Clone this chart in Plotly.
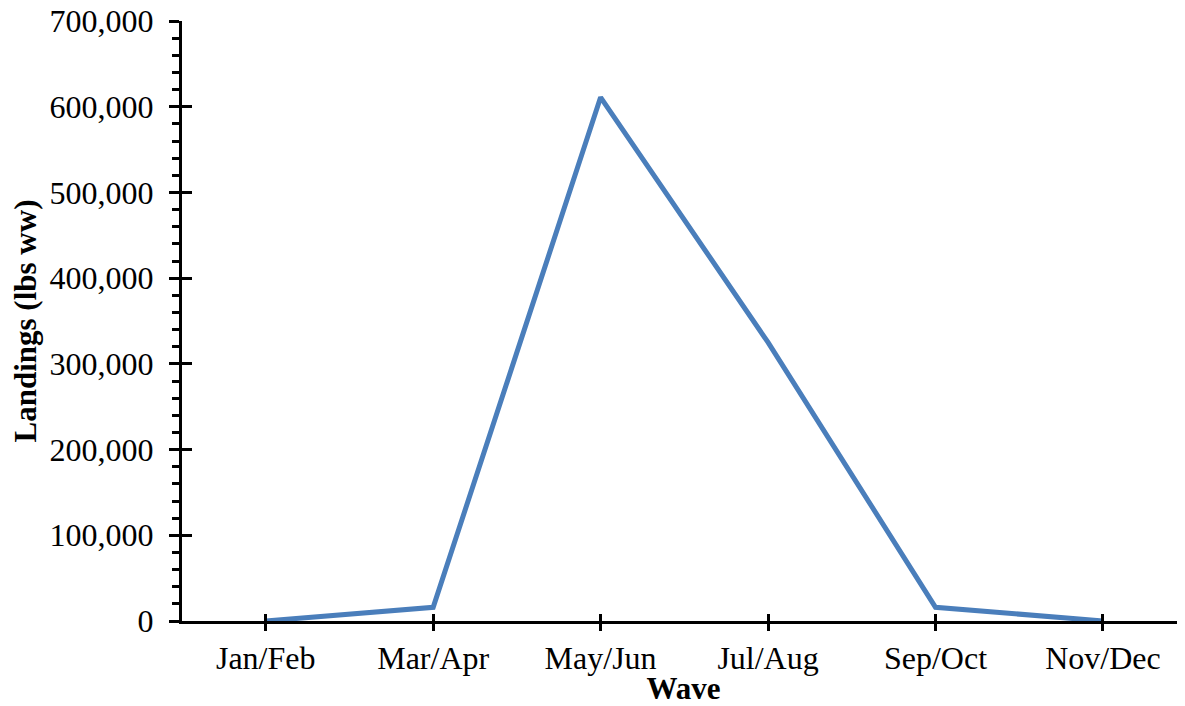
import plotly.graph_objects as go

waves = ["Jan/Feb", "Mar/Apr", "May/Jun", "Jul/Aug", "Sep/Oct", "Nov/Dec"]
landings = [0, 16000, 611000, 325000, 16000, 0]

y_ticks = [0, 100000, 200000, 300000, 400000, 500000, 600000, 700000]
y_max = 700000

FONT = "Liberation Serif, Times New Roman, serif"
LINE_COLOR = "#4A7EBB"

fig = go.Figure()
fig.add_trace(go.Scatter(
    x=waves, y=landings, mode="lines",
    line=dict(color=LINE_COLOR, width=5),
    cliponaxis=False, hoverinfo="skip", showlegend=False,
))
# invisible trace on overlay axes (used for inward half of major ticks)
fig.add_trace(go.Scatter(
    x=waves, y=landings, mode="lines", line=dict(width=0),
    xaxis="x2", yaxis="y2", hoverinfo="skip", showlegend=False,
))

fig.update_layout(
    width=1177, height=698,
    margin=dict(l=174, r=0, t=13, b=85),
    paper_bgcolor="white", plot_bgcolor="white",
    font=dict(family=FONT, size=32, color="black"),
    xaxis=dict(
        type="category", range=[-0.5, 5.49],
        showline=True, linecolor="black", linewidth=3,
        ticks="outside", ticklen=7, tickwidth=3, tickcolor="black",
        showgrid=False, zeroline=False,
        tickfont=dict(family=FONT, size=32),
        title=dict(text="<b>Wave</b>", font=dict(family=FONT, size=31), standoff=0),
        automargin=False, layer="below traces",
    ),
    yaxis=dict(
        range=[0, y_max], tickvals=y_ticks, tickformat=",",
        showline=True, linecolor="black", linewidth=3,
        ticks="outside", ticklen=10, tickwidth=3, tickcolor="black",
        ticklabelstandoff=9, ticklabeloverflow="allow",
        minor=dict(dtick=20000, ticks="outside", ticklen=7, tickwidth=3, tickcolor="black"),
        showgrid=False, zeroline=False,
        tickfont=dict(family=FONT, size=32),
        title=dict(text="<b>Landings (lbs ww)</b>", font=dict(family=FONT, size=31), standoff=4),
        automargin=False, layer="below traces",
    ),
    xaxis2=dict(
        type="category", overlaying="x", matches="x",
        showline=False, ticks="inside", ticklen=7, tickwidth=3, tickcolor="black",
        showticklabels=False, showgrid=False, zeroline=False, side="bottom",
    ),
    yaxis2=dict(
        overlaying="y", matches="y", tickvals=y_ticks,
        showline=False, ticks="inside", ticklen=10, tickwidth=3, tickcolor="black",
        showticklabels=False, showgrid=False, zeroline=False, side="left",
    ),
)

fig.write_html("out.html")
